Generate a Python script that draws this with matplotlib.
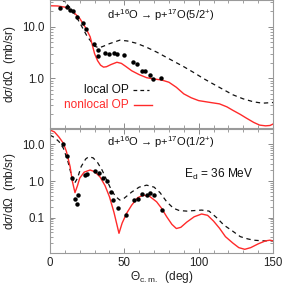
import matplotlib
matplotlib.use("Agg")
import matplotlib.pyplot as plt
from matplotlib.ticker import FixedLocator, NullFormatter, LogLocator, MultipleLocator

plt.rcParams['font.family'] = ['Liberation Sans', 'DejaVu Sans']
plt.rcParams['mathtext.fontset'] = 'custom'
plt.rcParams['mathtext.rm'] = 'Liberation Sans'
plt.rcParams['mathtext.it'] = 'Liberation Sans:italic'

RED = '#ff2a2a'

# ---- top panel: 5/2+ ----
top_data_x = [6.9, 11.2, 13.4, 15.7, 18.4, 22.0, 24.2, 29.8, 32.1, 32.5, 37.0, 39.9,
              43.2, 44.8, 50.0, 56.0, 58.5, 61.6, 64.1, 67.2, 69.5, 74.4]
top_data_y = [22.7, 23.8, 21.0, 20.4, 15.6, 11.6, 8.9, 4.6, 3.5, 2.7, 3.1, 3.0,
              3.1, 2.95, 2.8, 2.1, 1.9, 1.4, 1.38, 1.16, 0.98, 1.0]

top_nl_x = [0, 5, 10, 13, 16, 20, 24, 27, 30, 32, 34, 36, 38, 41, 45, 48, 51, 55, 60,
            65, 70, 75, 80, 85, 90, 95, 100, 108, 114, 119, 123, 128, 132, 137, 141,
            145, 148, 150]
top_nl_y = [25.5, 25.3, 24.0, 22.0, 19.0, 14.5, 9.5, 6.4, 3.0, 2.2, 1.8, 1.65, 1.68,
            1.85, 2.05, 1.95, 1.7, 1.4, 1.18, 1.03, 0.97, 0.93, 0.84, 0.67, 0.5, 0.42,
            0.37, 0.34, 0.32, 0.28, 0.24, 0.2, 0.17, 0.14, 0.124, 0.12, 0.122, 0.13]

top_loc_x = [0, 5, 10, 15, 20, 25, 30, 33, 36, 40, 47, 52, 58, 65, 72, 80, 90, 97,
             103, 109, 116, 123, 130, 137, 143, 150]
top_loc_y = [50, 40, 30, 21, 12, 6.5, 4.2, 3.9, 4.2, 4.7, 5.5, 5.3, 4.8, 4.0, 3.2,
             2.4, 1.68, 1.28, 1.0, 0.8, 0.62, 0.48, 0.40, 0.35, 0.33, 0.34]

# ---- bottom panel: 1/2+ ----
bot_data_x = [9.0, 11.7, 14.6, 16.6, 19.1, 18.4, 23.5, 24.6, 30.3, 32.9, 35.8, 38.1,
              40.8, 42.6, 45.5, 51.3, 56.5, 59.0, 62.0, 65.0, 67.2, 69.9, 75.1]
bot_data_y = [10.0, 4.9, 1.23, 0.32, 0.41, 0.23, 1.46, 1.55, 1.88, 1.66, 1.2, 1.02,
              0.51, 0.31, 0.18, 0.12, 0.30, 0.33, 0.43, 0.41, 0.48, 0.42, 0.16]

bot_nl_x = [0, 3, 6, 9, 11, 13.5, 15, 16.8, 18.5, 20, 23, 27, 30, 33.6, 37, 40, 43,
            46.4, 48.5, 51.5, 55, 59, 62.8, 67, 71.7, 75, 78.5, 82, 85, 88, 92, 97,
            102, 106, 110, 114, 118, 123, 127, 131, 135, 140, 145, 148, 150]
bot_nl_y = [25, 22, 16, 10.8, 6.5, 2.5, 1.0, 0.48, 0.75, 1.2, 1.75, 2.0, 1.8, 1.3,
            0.75, 0.37, 0.14, 0.037, 0.07, 0.13, 0.22, 0.35, 0.41, 0.38, 0.27, 0.18,
            0.105, 0.065, 0.05, 0.054, 0.075, 0.105, 0.125, 0.115, 0.08, 0.051, 0.03,
            0.02, 0.015, 0.0135, 0.015, 0.019, 0.023, 0.024, 0.023]

bot_loc_x = [0, 3, 6, 9, 12, 14.5, 16.5, 18.5, 21, 24, 26, 29, 32, 35, 38, 41, 44, 47,
             50, 55, 60, 65, 70, 74, 78.5, 83, 87, 92, 97, 102, 107, 112, 117, 122,
             128, 133, 137, 143, 150]
bot_loc_y = [18, 15.5, 12, 7.9, 3.5, 1.4, 0.86, 1.2, 2.5, 4.0, 4.6, 4.3, 3.2, 2.0,
             1.1, 0.6, 0.38, 0.3, 0.34, 0.5, 0.68, 0.77, 0.68, 0.48, 0.27, 0.18,
             0.155, 0.15, 0.155, 0.16, 0.15, 0.1, 0.062, 0.045, 0.03, 0.026, 0.024,
             0.023, 0.023]

x_ticks = [0, 50, 100, 150]
top_yticks = [1.0, 10.0]
bot_yticks = [0.1, 1.0, 10.0]

FS = 8.6
TFS = 8.0
fig = plt.figure(figsize=(2.83, 2.86), dpi=100)
L, W = 50 / 283, 223 / 283
ax1 = fig.add_axes([L, 1 - 128 / 286, W, 128 / 286])
ax2 = fig.add_axes([L, 1 - 253 / 286, W, 124 / 286])

SPINE = '#9a9a9a'
for ax in (ax1, ax2):
    ax.set_yscale('log')
    ax.set_xlim(0, 150)
    ax.xaxis.set_major_locator(FixedLocator(x_ticks))
    ax.xaxis.set_minor_locator(MultipleLocator(10))
    ax.yaxis.set_minor_locator(LogLocator(base=10, subs=range(2, 10)))
    ax.yaxis.set_minor_formatter(NullFormatter())
    ax.tick_params(which='both', direction='in', top=True, right=True,
                   color='#777777', labelsize=8.3, labelcolor='#222222', pad=4)
    ax.tick_params(which='major', length=3.5, width=0.6)
    ax.tick_params(which='minor', length=2, width=0.5)
    for s in ax.spines.values():
        s.set_color(SPINE)
        s.set_linewidth(0.8)
    ax.set_ylabel(r'd$\sigma$/d$\Omega$  (mb/sr)', fontsize=FS, color='#222222', labelpad=3)

TITLE1 = 'd+$^{16}$O \u2192 p+$^{17}$O(5/2$^{+}$)'
TITLE2 = 'd+$^{16}$O \u2192 p+$^{17}$O(1/2$^{+}$)'

# top
ax1.set_ylim(0.109, 33)
ax1.set_yticks(top_yticks)
ax1.set_yticklabels(['%.1f' % v for v in top_yticks])
ax1.yaxis.set_minor_formatter(NullFormatter())
ax1.set_xticklabels([])
ax1.plot(top_loc_x, top_loc_y, color='#111111', lw=0.9, dashes=(3.5, 3))
ax1.plot(top_nl_x, top_nl_y, color=RED, lw=1.0)
ax1.plot(top_data_x, top_data_y, 'o', color='black', ms=3.2, mec='none')
ax1.text(0.495, 0.885, TITLE1, transform=ax1.transAxes, ha='center', va='center',
         fontsize=TFS, color='#111111')

# legend (manual)
def ax1_pt(px, py):
    return ((px - 50) / 223, 1 - py / 128)
tx, ty = ax1_pt(129, 90)
ax1.text(tx, ty, 'local OP', transform=ax1.transAxes, ha='right', va='center',
         fontsize=FS, color='#111111')
x0, _ = ax1_pt(133, 90)
x1, _ = ax1_pt(149, 90)
ax1.plot([x0, x1], [ty, ty], transform=ax1.transAxes, color='#111111', lw=0.9, dashes=(3, 2.5))
tx, ty = ax1_pt(129, 105)
ax1.text(tx, ty, 'nonlocal OP', transform=ax1.transAxes, ha='right', va='center',
         fontsize=FS, color=RED)
x0, _ = ax1_pt(134, 105)
x1, _ = ax1_pt(152, 105)
ax1.plot([x0, x1], [ty, ty], transform=ax1.transAxes, color=RED, lw=1.0)

# bottom
ax2.set_ylim(0.0107, 26.5)
ax2.set_yticks(bot_yticks)
ax2.set_yticklabels(['%.1f' % v for v in bot_yticks])
ax2.yaxis.set_minor_formatter(NullFormatter())
ax2.set_xticklabels([str(v) for v in x_ticks])
ax2.tick_params(axis='x', which='both', pad=3)
ax2.plot(bot_loc_x, bot_loc_y, color='#111111', lw=0.9, dashes=(3.5, 3))
ax2.plot(bot_nl_x, bot_nl_y, color=RED, lw=1.0)
ax2.plot(bot_data_x, bot_data_y, 'o', color='black', ms=3.2, mec='none')
ax2.text(0.495, 0.895, TITLE2, transform=ax2.transAxes, ha='center', va='center',
         fontsize=TFS, color='#111111')
ax2.text(0.758, 0.63, r'E$_{\rm d}$ = 36 MeV', transform=ax2.transAxes,
         ha='center', va='center', fontsize=FS, color='#111111')
fig.text((50 + 223 / 2) / 283, 1 - 277 / 286, r'$\Theta_{\rm c.m.}$  (deg)',
         ha='center', va='center', fontsize=FS, color='#222222')

fig.savefig('out.png', dpi=100)
